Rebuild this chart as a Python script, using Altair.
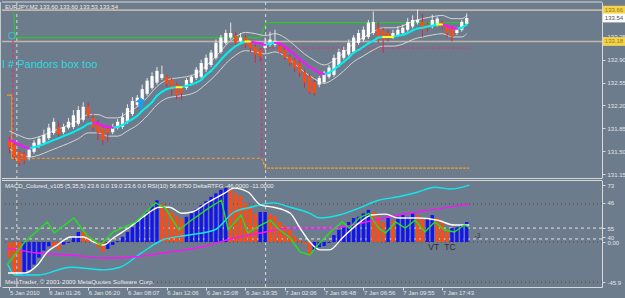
import altair as alt
import pandas as pd
import numpy as np

BG = "#6D7C8D"
FONT = "Liberation Sans"

# ---------------- price panel data (EURJPY M2) ----------------
opens = [131.67, 131.60, 131.49, 131.46, 131.41, 131.49, 131.58, 131.63, 131.70, 131.78,
         131.87, 131.79, 131.86, 131.87, 131.92, 131.98, 132.18, 132.01, 131.93, 131.86,
         131.84, 131.79, 131.86, 131.87, 131.95, 132.07, 132.21, 132.29, 132.38, 132.47,
         132.55, 132.62, 132.64, 132.59, 132.52, 132.47, 132.47, 132.55, 132.62, 132.64,
         132.75, 132.82, 132.93, 133.02, 133.16, 133.24, 133.27, 133.19, 133.24, 133.18,
         133.10, 133.05, 133.08, 133.13, 133.13, 133.11, 133.05, 132.95, 132.90, 132.85,
         132.71, 132.65, 132.56, 132.52, 132.56, 132.64, 132.67, 132.82, 132.93, 132.98,
         133.02, 133.16, 133.21, 133.25, 133.31, 133.39, 133.35, 133.31, 133.25, 133.28,
         133.31, 133.36, 133.41, 133.47, 133.48, 133.44, 133.41, 133.44, 133.47, 133.41,
         133.38, 133.31, 133.36, 133.45]
closes = [131.56, 131.41, 131.32, 131.36, 131.52, 131.63, 131.69, 131.75, 131.86, 131.95,
          131.76, 131.87, 131.95, 132.05, 132.13, 132.18, 132.05, 131.86, 131.78, 131.67,
          131.78, 131.87, 131.95, 132.02, 132.16, 132.27, 132.32, 132.45, 132.58, 132.65,
          132.73, 132.68, 132.53, 132.44, 132.36, 132.39, 132.59, 132.64, 132.75, 132.85,
          132.93, 133.01, 133.16, 133.24, 133.31, 133.31, 133.16, 133.24, 133.13, 133.07,
          132.98, 132.95, 133.16, 133.21, 133.19, 133.02, 132.93, 132.85, 132.78, 132.70,
          132.55, 132.41, 132.39, 132.62, 132.70, 132.78, 132.93, 133.02, 133.05, 133.16,
          133.24, 133.31, 133.36, 133.47, 133.48, 133.25, 133.21, 133.24, 133.31, 133.36,
          133.39, 133.48, 133.51, 133.51, 133.36, 133.39, 133.51, 133.53, 133.41, 133.31,
          133.25, 133.36, 133.48, 133.54]
highs = [131.72, 131.64, 131.52, 131.49, 131.56, 131.67, 131.73, 131.83, 131.92, 132.01,
         131.95, 131.92, 132.01, 132.13, 132.19, 132.25, 132.25, 132.07, 131.98, 131.90,
         131.89, 131.92, 131.99, 132.09, 132.22, 132.33, 132.36, 132.52, 132.62, 132.71,
         132.79, 132.81, 132.67, 132.62, 132.55, 132.50, 132.62, 132.67, 132.79, 132.90,
         132.98, 133.05, 133.21, 133.28, 133.36, 133.47, 133.33, 133.31, 133.28, 133.21,
         133.13, 133.08, 133.24, 133.33, 133.36, 133.15, 133.08, 132.98, 132.93, 132.88,
         132.75, 132.68, 132.59, 132.65, 132.73, 132.82, 132.98, 133.07, 133.10, 133.21,
         133.28, 133.36, 133.41, 133.51, 133.64, 133.48, 133.39, 133.36, 133.36, 133.41,
         133.44, 133.54, 133.58, 133.67, 133.61, 133.48, 133.59, 133.56, 133.50, 133.44,
         133.41, 133.39, 133.51, 133.61]
lows = [131.47, 131.36, 131.27, 131.30, 131.36, 131.46, 131.55, 131.60, 131.67, 131.75,
        131.72, 131.76, 131.83, 131.84, 131.89, 131.95, 132.01, 131.81, 131.67, 131.60,
        131.64, 131.76, 131.83, 131.84, 131.92, 132.04, 132.18, 132.25, 132.35, 132.44,
        132.52, 132.59, 132.48, 132.35, 132.29, 132.29, 132.44, 132.52, 132.59, 132.61,
        132.71, 132.79, 132.90, 132.99, 133.13, 133.21, 133.11, 133.16, 133.08, 133.01,
        132.85, 132.87, 133.05, 133.10, 133.10, 132.99, 132.90, 132.81, 132.71, 132.64,
        132.47, 132.38, 132.35, 132.48, 132.53, 132.61, 132.64, 132.79, 132.90, 132.95,
        132.99, 133.13, 133.18, 133.22, 133.28, 133.16, 133.01, 133.18, 133.22, 133.25,
        133.28, 133.33, 133.38, 133.44, 133.25, 133.33, 133.38, 133.41, 133.36, 133.24,
        133.18, 133.28, 133.33, 133.42]
ma = [131.67, 131.64, 131.60, 131.56, 131.55, 131.56, 131.58, 131.61, 131.64, 131.67,
      131.70, 131.73, 131.76, 131.79, 131.83, 131.87, 131.92, 131.93, 131.92, 131.89,
      131.87, 131.86, 131.87, 131.90, 131.95, 131.99, 132.04, 132.12, 132.18, 132.25,
      132.35, 132.41, 132.45, 132.47, 132.48, 132.48, 132.50, 132.52, 132.55, 132.59,
      132.67, 132.73, 132.81, 132.90, 132.98, 133.05, 133.11, 133.15, 133.18, 133.18,
      133.16, 133.15, 133.13, 133.15, 133.16, 133.15, 133.10, 133.04, 132.98, 132.91,
      132.85, 132.79, 132.75, 132.70, 132.68, 132.70, 132.75, 132.81, 132.87, 132.93,
      133.01, 133.05, 133.10, 133.15, 133.19, 133.24, 133.25, 133.25, 133.25, 133.27,
      133.28, 133.31, 133.35, 133.38, 133.39, 133.41, 133.42, 133.44, 133.44, 133.42,
      133.39, 133.38, 133.39, 133.44]
band_idx = list(range(0, 93, 2)) + [93]
band_up = [131.81, 131.74, 131.69, 131.72, 131.78, 131.84, 131.90, 131.97, 132.06, 132.06,
           132.01, 132.01, 132.09, 132.18, 132.32, 132.49, 132.59, 132.62, 132.64, 132.69,
           132.81, 132.95, 133.12, 133.25, 133.32, 133.30, 133.27, 133.30, 133.24, 133.12,
           132.99, 132.89, 132.82, 132.89, 133.01, 133.15, 133.24, 133.33, 133.39, 133.39,
           133.42, 133.49, 133.53, 133.56, 133.58, 133.53, 133.53, 133.58]
band_lo = [131.53, 131.46, 131.41, 131.44, 131.50, 131.56, 131.62, 131.69, 131.78, 131.78,
           131.73, 131.73, 131.81, 131.90, 132.04, 132.21, 132.31, 132.34, 132.36, 132.41,
           132.53, 132.67, 132.84, 132.97, 133.04, 133.02, 132.99, 133.02, 132.96, 132.84,
           132.71, 132.61, 132.54, 132.61, 132.73, 132.87, 132.96, 133.05, 133.11, 133.11,
           133.14, 133.21, 133.25, 133.28, 133.30, 133.25, 133.25, 133.30]

# level lines (bar index, price)
green_idx = [0.9, 1.1, 51.0, 52.2, 93.5]
green_px = [133.62, 133.24, 133.24, 133.47, 133.47]
orange_left_idx = [-0.5, 0.5, 0.5, 1.5]
orange_left_px = [132.36, 132.36, 131.39, 131.39]
orange_right_idx = [51.3, 52.1, 93.5]
orange_right_px = [131.39, 131.24, 131.24]
box_bottom_idx = [1.5, 51.3]
box_bottom_px = 131.39
pink_v_idx = [0.7, 51.3]
pink_v_top = [133.21, 133.08]
pink_v_bot = [131.39, 131.39]
pink_h_idx = [51.3, 93.5]
pink_h_px = 133.08
gray_levels = [133.66, 133.18]
separators = [1.5, 52.1]

price_ticks = [133.25, 132.90, 132.55, 132.20, 131.85, 131.50, 131.15]
box_prices = [133.66, 133.54, 133.18]
box_texts = ["133.66", "133.54", "133.18"]

# ---------------- indicator panel data ----------------
hist = [-18, -38, -35, -38, -32, -26, -18, -10, -5, -6,
        -9, -3, -1, 6, 11.5, 11.5, 7, 2, -6, -11.5,
        -8, -3.5, 1, 6, 11.5, 17, 23, 29, 34.5, 41,
        48, 44, 39, 34.5, 30, 26.5, 29, 33, 38, 42.5,
        47, 52, 56, 60, 62, 61, 56, 53, 45, 39,
        33, 34.5, 34.5, 32, 30, 23, 18.4, 14, 7, 2,
        -2.3, -15, -9, -6, -4.6, -1, 8, 14, 17, 23,
        27.6, 29, 33, 37, 34.5, 29, 23, 27.6, 25, 29,
        31, 29, 33, 31, 27.6, 27.6, 31, 27.6, 22, 14,
        16, 17, 19.5, 23]
hist_dir = list("rrrbbbbbbr" "rbbbbrrrrr" "bbbbbbbbbb" "brrrrrbbbb" "bbbbbrrrrr"
                "rbbrrrrrrr" "rrbbbbbbbb" "bbbbrrrbrb" "bbbrrbbrrr" "bbbb")

white_idx = [-0.3, 3.1, 5.7, 7.7, 9.7, 12.5, 15.1, 17.1, 19.1, 21.1, 24.5, 27.7, 30.5, 32.5,
             35.1, 37.1, 40.5, 43.7, 45.7, 48.5, 51.1, 53.7, 57.1, 59.1, 61.1, 63.1, 65.1,
             67.7, 71.1, 73.7, 76.5, 79.1, 83.1, 87.1, 90.5, 93.5]
white_val = [-35.7, -35.7, -26.5, -11.5, -3.5, 5.8, 5.8, 0, -3.5, 4.6, 17.3, 31, 40, 40,
             33, 34.5, 46, 56, 62, 57.5, 42.5, 40, 33, 16, 0, -9, -9,
             4.6, 22, 31, 32, 27.6, 27.6, 25, 19.5, 19.5]
cyan_idx = [-0.3, 1.1, 5.7, 12.5, 19.1, 22.5, 27.1, 31.1, 36.5, 41.7, 45.7, 49.1, 53.7,
            57.1, 61.1, 63.1, 67.1, 71.1, 75.1, 79.1, 83.1, 86.5, 89.7, 93.5]
cyan_val = [-26.5, -38, -38, -29, -32, -29, -11.5, 2.3, 8, 13.8, 34.5, 40, 45,
            40, 33, 27.6, 31, 39, 48, 52, 57.5, 63, 61, 65.5]
green2_idx = [-0.5, 3.1, 7.7, 9.1, 13.1, 15.7, 18.5, 21.1, 25.7, 29.7, 31.7, 34.5, 36.5,
              40.5, 43.1, 44.5, 47.1, 48.5, 51.1, 53.1, 54.5, 57.1, 59.1, 61.1, 63.1, 65.7,
              67.7, 69.1, 71.1, 73.1, 75.1, 76.5, 78.5, 80.5, 82.5, 84.5, 86.5, 88.5, 90.5,
              92.5, 93.5]
green2_val = [-26.5, 0, 23, 10.4, 27.6, 8, -3.5, 11.5, 23, 45, 39, 13.8, 23,
              39, 48, 13.8, 31, 10.4, 19.5, 25, 16, 4.6, -11.5, -15, -1, 13.8,
              23, 16, 27.6, 33, 16, 10.4, 23, 16, 25, 11.5, 23, 13.8, 11.5,
              19.5, 17]
magenta_idx = [-0.5, 5.7, 12.5, 19.1, 25.7, 32.5, 39.1, 45.7, 51.1, 56.5, 59.1, 65.7,
               72.5, 79.1, 85.7, 93.5]
magenta_val = [-7, -12.6, -15, -18.4, -17, -11.5, -5.7, 4.6, 10.4, 16, 16, 16,
               23, 31, 37, 43.7]

dotted_levels = [43.7, 0, -46]
dashed_levels = [16, 3.5]
low_label_vals = [65.5, 45, 16, 5.7, 0, -46]
low_label_txt = ["73", "46", "55", "40", "0.00", "-45.9"]

time_idx = [0, 8, 16, 24, 32, 40, 48, 56, 64, 72, 80, 88]
time_txt = ["5 Jan 2010", "6 Jan 01:26", "6 Jan 06:20", "6 Jan 08:07", "6 Jan 12:06",
            "6 Jan 15:08", "6 Jan 19:35", "7 Jan 02:06", "7 Jan 06:48", "7 Jan 06:56",
            "7 Jan 09:55", "7 Jan 17:43"]

# ---------------- scales & axes ----------------
W, H = 600, 285
x_scale = alt.Scale(domain=[-0.5, 119.5], nice=False, zero=False)
y_main = alt.Scale(domain=[131.089, 133.785], range=[176, 0], nice=False, zero=False)
y_low = alt.Scale(domain=[-51.75, 71.3], range=[285, 178], nice=False, zero=False)

time_expr = " : ".join(f"datum.value == {v} ? '{t}'" for v, t in zip(time_idx, time_txt)) + " : ''"
x_axis = alt.Axis(values=time_idx, labelExpr=time_expr, orient="bottom", title=None, grid=False,
                  labelAlign="left", labelBaseline="middle", labelPadding=2, tickSize=3,
                  labelFontSize=6, labelFont=FONT, labelColor="#E4E4E4",
                  tickColor="#D8D8D8", domainColor="#D8D8D8", labelOverlap=False, labelFlush=False)
main_axis = alt.Axis(orient="right", values=price_ticks, format=".2f", title=None, grid=False,
                     labelFontSize=6, labelFont=FONT, labelColor="#E4E4E4", tickColor="#D8D8D8",
                     domainColor="#D8D8D8", tickSize=3, labelPadding=2, labelOverlap=False)
low_expr = " : ".join(f"datum.value == {v} ? '{t}'" for v, t in zip(low_label_vals, low_label_txt)) + " : ''"
low_axis = alt.Axis(orient="right", values=low_label_vals, labelExpr=low_expr, title=None, grid=False,
                    labelFontSize=6, labelFont=FONT, labelColor="#E4E4E4", tickColor="#D8D8D8",
                    domainColor="#D8D8D8", tickSize=3, labelPadding=2, labelOverlap=False)

X = lambda f: alt.X(f, scale=x_scale, axis=x_axis)
YM = lambda f: alt.Y(f, scale=y_main, axis=main_axis)
YL = lambda f: alt.Y(f, scale=y_low, axis=low_axis)

# ---------------- tables ----------------
n = len(opens)
cdf = pd.DataFrame({"idx": np.arange(n), "open": opens, "close": closes, "high": highs, "low": lows})
cdf["dir"] = np.where(cdf["close"] >= cdf["open"], "up", "down")

seg = pd.DataFrame({"idx": np.arange(n - 1), "idx2": np.arange(1, n), "ma": ma[:-1], "ma2": ma[1:]})
seg["trend"] = np.where(seg["ma2"] > seg["ma"], "up", np.where(seg["ma2"] < seg["ma"], "down", "flat"))

bdf = pd.DataFrame({"idx": band_idx, "up": band_up, "lo": band_lo})

# ---------------- main panel layers ----------------
sep = alt.Chart(pd.DataFrame({"idx": separators})).mark_rule(
    color="#D8D8D8", strokeDash=[3, 3], strokeWidth=1).encode(
    x=X("idx:Q"), y=alt.value(0), y2=alt.value(H))

gray = alt.Chart(pd.DataFrame({"p": gray_levels})).mark_rule(color="#C2B6A8", strokeWidth=1.6).encode(
    y=YM("p:Q"))

green_l = alt.Chart(pd.DataFrame({"idx": green_idx, "p": green_px})).mark_line(
    color="#2BC52B", strokeWidth=1.2).encode(x=X("idx:Q"), y=YM("p:Q"))

orange_l = alt.Chart(pd.DataFrame({"idx": orange_left_idx, "p": orange_left_px})).mark_line(
    color="#F0A020", strokeWidth=1.2).encode(x=X("idx:Q"), y=YM("p:Q"))
orange_r = alt.Chart(pd.DataFrame({"idx": orange_right_idx, "p": orange_right_px})).mark_line(
    color="#F0A020", strokeWidth=1.2, strokeDash=[3, 1]).encode(x=X("idx:Q"), y=YM("p:Q"))
box_bot = alt.Chart(pd.DataFrame({"a": [box_bottom_idx[0]], "b": [box_bottom_idx[1]], "p": [box_bottom_px]})).mark_rule(
    color="#E8903A", strokeWidth=1.2, strokeDash=[3, 2]).encode(x=X("a:Q"), x2="b:Q", y=YM("p:Q"))

pink_v = alt.Chart(pd.DataFrame({"idx": pink_v_idx, "t": pink_v_top, "b": pink_v_bot})).mark_rule(
    color="#E0306E", strokeWidth=1.2, strokeDash=[3, 2]).encode(x=X("idx:Q"), y=YM("t:Q"), y2="b:Q")
pink_h = alt.Chart(pd.DataFrame({"a": [pink_h_idx[0]], "b": [pink_h_idx[1]], "p": [pink_h_px]})).mark_rule(
    color="#E0306E", strokeWidth=1.2, strokeDash=[3, 2]).encode(x=X("a:Q"), x2="b:Q", y=YM("p:Q"))

band_u = alt.Chart(bdf).mark_line(color="#D4D4D4", strokeWidth=1, interpolate="monotone").encode(
    x=X("idx:Q"), y=YM("up:Q"))
band_d = alt.Chart(bdf).mark_line(color="#D4D4D4", strokeWidth=1, interpolate="monotone").encode(
    x=X("idx:Q"), y=YM("lo:Q"))

def ma_layer(trend, color):
    return alt.Chart(seg).transform_filter(f"datum.trend == '{trend}'").mark_rule(
        strokeWidth=2, strokeCap="round", color=color).encode(
        x=X("idx:Q"), x2="idx2:Q", y=YM("ma:Q"), y2="ma2:Q")

ma_up = ma_layer("up", "#00F0F0")
ma_dn = ma_layer("down", "#FF10FF")
ma_fl = ma_layer("flat", "#FFFF20")

def wick_layer(d, color):
    return alt.Chart(cdf).transform_filter(f"datum.dir == '{d}'").mark_rule(
        strokeWidth=1, color=color).encode(x=X("idx:Q"), y=YM("low:Q"), y2="high:Q")

def body_layer(d, color):
    return alt.Chart(cdf).transform_filter(f"datum.dir == '{d}'").mark_bar(
        size=3.2, color=color).encode(x=X("idx:Q"), y=YM("open:Q"), y2="close:Q")

wick_up = wick_layer("up", "#E6E6E6")
wick_dn = wick_layer("down", "#D0284A")
body_up = body_layer("up", "#FFFFFF")
body_dn = body_layer("down", "#FF4A12")

arrow = alt.Chart(pd.DataFrame({"idx": [26.7], "p": [132.24]})).mark_point(
    shape="M0,-1L1,-0.1L0.42,-0.1L0.42,1L-0.42,1L-0.42,-0.1L-1,-0.1Z",
    filled=True, size=120, color="#1E9BEA", opacity=1).encode(x=X("idx:Q"), y=YM("p:Q"))
circ = alt.Chart(pd.DataFrame({"idx": [0.5], "p": [133.27]})).mark_point(
    shape="circle", size=45, color="#30D0E0", strokeWidth=1.2, filled=False).encode(x=X("idx:Q"), y=YM("p:Q"))

boxes_df = pd.DataFrame({"p": box_prices, "t": box_texts,
                         "fill": ["#F2D34A", "#FFFFFF", "#F2D34A"],
                         "tc": ["#9A7A10", "#505050", "#9A7A10"]})
box_bg = alt.Chart(boxes_df).mark_point(
    shape="M-1,-0.4L1,-0.4L1,0.4L-1,0.4Z", filled=True, size=484, opacity=1).encode(
    x=alt.value(612), y=YM("p:Q"), color=alt.Color("fill:N", scale=None))
box_tx = alt.Chart(boxes_df).mark_text(fontSize=6, font=FONT, align="center", baseline="middle").encode(
    x=alt.value(612), y=YM("p:Q"), text="t:N", color=alt.Color("tc:N", scale=None))

frame_top = alt.Chart(pd.DataFrame({"a": [0]})).mark_rule(color="#D8D8D8", strokeWidth=1).encode(y=alt.value(0))
frame_mb = alt.Chart(pd.DataFrame({"a": [0]})).mark_rule(color="#D8D8D8", strokeWidth=1).encode(y=alt.value(176.5))
frame_lt = alt.Chart(pd.DataFrame({"a": [0]})).mark_rule(color="#D8D8D8", strokeWidth=1).encode(y=alt.value(178.5))
frame_l = alt.Chart(pd.DataFrame({"a": [0]})).mark_rule(color="#C8C8C8", strokeWidth=1).encode(x=alt.value(-1.5))

title_t = alt.Chart(pd.DataFrame({"t": ["EURJPY,M2  133.60 133.60 133.53 133.54"]})).mark_text(
    fontSize=6, font=FONT, align="left", baseline="middle", color="#EDEDED").encode(
    x=alt.value(3), y=alt.value(5), text="t:N")
pandora_t = alt.Chart(pd.DataFrame({"t": ["I # Pandors box too"]})).mark_text(
    fontSize=11, font=FONT, align="left", baseline="middle", color="#2ED8DE").encode(
    x=alt.value(0), y=alt.value(63), text="t:N")

main = alt.layer(sep, gray, green_l, orange_l, orange_r, box_bot, pink_v, pink_h, band_u, band_d,
                 wick_up, wick_dn, body_up, body_dn, ma_up, ma_dn, ma_fl, arrow, circ, box_bg, box_tx,
                 frame_top, frame_mb, frame_lt, frame_l, title_t, pandora_t)

# ---------------- indicator panel layers ----------------
hdf = pd.DataFrame({"idx": np.arange(n), "v": hist, "d": hist_dir})

def hist_layer(d, color):
    return alt.Chart(hdf).transform_filter(f"datum.d == '{d}'").mark_bar(
        size=3.4, color=color).encode(x=X("idx:Q"), y=YL("v:Q"), y2=alt.datum(0))

h_blue = hist_layer("b", "#1414F0")
h_red = hist_layer("r", "#FF4A12")

dot_l = alt.Chart(pd.DataFrame({"v": dotted_levels})).mark_rule(
    color="#5E3E30", strokeWidth=1, strokeDash=[1, 3]).encode(y=YL("v:Q"))
dash_l = alt.Chart(pd.DataFrame({"v": dashed_levels})).mark_rule(
    color="#E2E2E2", strokeWidth=1, strokeDash=[3, 3]).encode(y=YL("v:Q"))

def ind_line(xs, vs, color, interp="monotone"):
    return alt.Chart(pd.DataFrame({"idx": xs, "v": vs})).mark_line(
        color=color, strokeWidth=1.4, interpolate=interp).encode(x=X("idx:Q"), y=YL("v:Q"))

cyan_l = ind_line(cyan_idx, cyan_val, "#10E8EE")
mag_l = ind_line(magenta_idx, magenta_val, "#FF10FF")
white_l = ind_line(white_idx, white_val, "#FFFFFF")
green2_l = ind_line(green2_idx, green2_val, "#22E022", "linear")

vt = alt.Chart(pd.DataFrame({"idx": [86.3, 89.6], "v": [-5.5, -5.5], "t": ["VT", "TC"]})).mark_text(
    fontSize=8.5, font=FONT, align="center", baseline="middle", color="#2A2F36").encode(
    x=X("idx:Q"), y=YL("v:Q"), text="t:N")
m3 = alt.Chart(pd.DataFrame({"idx": [94.6], "v": [7], "t": ["-3"]})).mark_text(
    fontSize=6.5, font=FONT, align="left", baseline="middle", color="#3A3F46").encode(
    x=X("idx:Q"), y=YL("v:Q"), text="t:N")

macd_t = alt.Chart(pd.DataFrame({"t": ["MACD_Colored_v105 (5,35,5) 23.6 0.0 19.0 23.6 0.0  RSI(10) 56.8750  DeltaRTFG -46.0000 -11.0000"]})).mark_text(
    fontSize=6, font=FONT, align="left", baseline="middle", color="#EDEDED").encode(
    x=alt.value(3), y=alt.value(184), text="t:N")
copy_t = alt.Chart(pd.DataFrame({"t": ["MetaTrader, © 2001-2009 MetaQuotes Software Corp."]})).mark_text(
    fontSize=6.2, font=FONT, align="left", baseline="middle", color="#EDEDED").encode(
    x=alt.value(3), y=alt.value(280), text="t:N")

low = alt.layer(dot_l, dash_l, h_blue, h_red, cyan_l, mag_l, white_l, green2_l, vt, m3, macd_t, copy_t)

chart = alt.layer(main, low).resolve_scale(y="independent").properties(
    width=W, height=H,
    autosize=alt.AutoSizeParams(type="none"),
    padding={"left": 2, "top": 2, "right": 23, "bottom": 11},
    background=BG,
).configure_view(stroke=None)

chart.save("out.html", embed_options={"renderer": "svg", "actions": False})
